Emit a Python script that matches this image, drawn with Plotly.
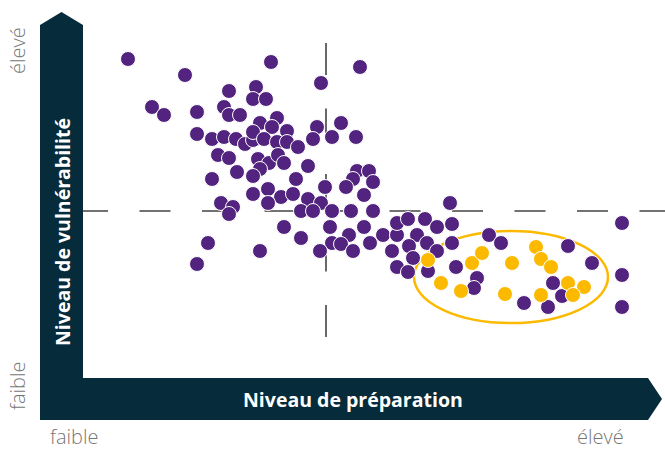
import plotly.graph_objects as go

# Data (arbitrary units: preparation on x, vulnerability on y)
purple_prep = [128, 185, 271, 360, 321, 152, 164, 197, 229, 256, 253, 266, 224, 229, 240,
               277, 260, 272, 287, 317, 341, 197, 212, 224, 236, 245, 253, 253, 264, 277,
               287, 298, 313, 332, 356, 218, 229, 258, 269, 278, 284, 308, 260, 237, 212,
               253, 296, 325, 357, 369, 353, 373, 346, 364, 253, 268, 281, 293, 268, 308,
               321, 221, 233, 229, 301, 313, 332, 351, 373, 284, 330, 364, 301, 349, 332,
               341, 370, 320, 353, 208, 260, 197, 383, 397, 397, 408, 425, 417, 409, 392,
               427, 413, 450, 437, 452, 452, 437, 397, 408, 428, 456, 489, 501, 477, 474,
               568, 622, 592, 622, 553, 562, 524, 548, 622]
purple_vuln = [391, 375, 388, 383, 367, 343, 335, 338, 359, 363, 351, 351, 343, 335, 335,
               332, 327, 323, 319, 323, 327, 316, 311, 313, 311, 306, 310, 318, 311, 308,
               308, 303, 311, 313, 313, 295, 292, 291, 287, 295, 287, 284, 281, 278, 271,
               274, 271, 263, 279, 279, 271, 268, 263, 255, 256, 261, 253, 256, 247, 251,
               247, 247, 243, 236, 239, 239, 239, 239, 239, 223, 223, 223, 212, 215, 207,
               206, 207, 199, 199, 207, 199, 186, 215, 215, 227, 231, 231, 215, 204, 199,
               207, 192, 247, 223, 226, 207, 199, 183, 178, 179, 183, 215, 207, 172, 162,
               204, 227, 187, 175, 167, 154, 147, 143, 143]
yellow_prep = [428, 441, 461, 472, 482, 512, 505, 536, 541, 551, 541, 568, 584, 573]
yellow_vuln = [190, 167, 159, 187, 197, 187, 156, 203, 191, 183, 155, 167, 163, 155]

prep_threshold = 326
vuln_threshold = 239

x_title = "Niveau de préparation"
y_title = "Niveau de vulnérabilité"
low_label = "faible"
high_label = "élevé"

PURPLE = "#52247F"
YELLOW = "#FBB900"
DARK = "#062B3A"
GREY = "#777777"
TITLE_FONT = dict(family="Open Sans", size=19.5, color="white", weight="bold")
LABEL_FONT = dict(family="Open Sans", size=20, color=GREY, weight=300)

fig = go.Figure()
fig.add_trace(go.Scatter(x=purple_prep, y=purple_vuln, mode="markers",
                         marker=dict(size=15, color=PURPLE, line=dict(color="white", width=1)),
                         hoverinfo="x+y", showlegend=False))
fig.add_trace(go.Scatter(x=yellow_prep, y=yellow_vuln, mode="markers",
                         marker=dict(size=15, color=YELLOW, line=dict(color="white", width=1)),
                         hoverinfo="x+y", showlegend=False))

shapes = []
# dashed quadrant lines
shapes.append(dict(type="line", x0=77, x1=665, y0=vuln_threshold, y1=vuln_threshold,
                   line=dict(color="#444", width=1.6, dash="31px,31.5px"), layer="below"))
shapes.append(dict(type="line", x0=prep_threshold, x1=prep_threshold, y0=407, y1=113,
                   line=dict(color="#444", width=1.6, dash="32px,33.5px"), layer="below"))
# highlight ellipse
shapes.append(dict(type="circle", x0=414, x1=608, y0=127, y1=219,
                   line=dict(color=YELLOW, width=2.5), layer="below"))
# axis arrows
shapes.append(dict(type="path",
                   path="M 40 30 L 40 425 L 61.5 438 L 83 425 L 83 72 L 648 72 L 662 51 L 648 30 Z",
                   fillcolor=DARK, line=dict(width=0), layer="below"))
fig.update_layout(shapes=shapes)

ann = []
ann.append(dict(x=353, y=51, text=x_title, showarrow=False, font=TITLE_FONT))
ann.append(dict(x=62, y=218, text=y_title, showarrow=False, textangle=-90, font=TITLE_FONT))
ann.append(dict(x=17, y=399, text=high_label, showarrow=False, textangle=-90, font=LABEL_FONT))
ann.append(dict(x=17, y=64, text=low_label, showarrow=False, textangle=-90, font=LABEL_FONT))
ann.append(dict(x=74, y=14, text=low_label, showarrow=False, font=LABEL_FONT))
ann.append(dict(x=600, y=14, text=high_label, showarrow=False, font=LABEL_FONT))
fig.update_layout(annotations=ann)

fig.update_layout(
    width=665, height=450,
    margin=dict(l=0, r=0, t=0, b=0),
    paper_bgcolor="white", plot_bgcolor="white",
    xaxis=dict(range=[0, 665], visible=False, fixedrange=True),
    yaxis=dict(range=[0, 450], visible=False, fixedrange=True),
)
fig.write_html("out.html")
